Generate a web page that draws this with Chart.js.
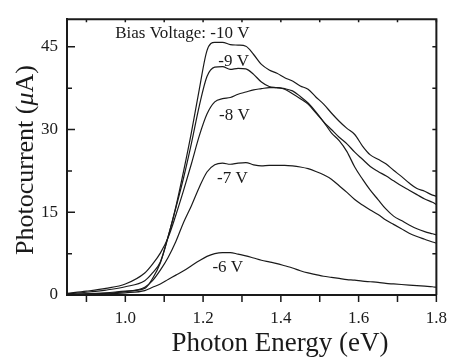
<!DOCTYPE html>
<html>
<head>
<meta charset="utf-8">
<script src="https://cdn.jsdelivr.net/npm/chart.js@4.4.1/dist/chart.umd.min.js"></script>
<style>
  body { margin: 0; background: #fff; }
</style>
</head>
<body>
<canvas id="chart" width="460" height="358"></canvas>
<script>
// Energía del fotón (eV), común a todas las curvas
const energy = [0.85, 0.90, 0.95, 1.00, 1.05,
  1.07, 1.09, 1.11, 1.13, 1.15, 1.17, 1.19, 1.21, 1.23, 1.25, 1.27, 1.29, 1.31, 1.33, 1.35,
  1.37, 1.39, 1.41, 1.43, 1.45, 1.47, 1.49, 1.51, 1.53, 1.55, 1.57, 1.59, 1.61, 1.63, 1.65,
  1.67, 1.69, 1.71, 1.73, 1.75, 1.77, 1.79, 1.80];

// Fotocorriente (uA) por tensión de polarización
const bias10 = [0.1, 0.2, 0.4, 0.7, 1.2,
  3.0, 5.8, 10.5, 16.0, 22.5, 29.5, 37.2, 44.3, 45.8, 45.8, 45.4, 45.3, 45.1, 43.6, 41.8,
  40.8, 40.2, 39.4, 38.8, 37.9, 37.3, 35.9, 34.6, 33.0, 31.5, 30.2, 29.1, 27.0, 25.4, 24.6,
  23.8, 22.6, 21.5, 20.3, 19.3, 18.8, 18.1, 17.9];
const bias9 = [0.2, 0.5, 0.9, 1.5, 2.6,
  4.0, 6.0, 10.6, 15.8, 21.3, 27.5, 34.2, 39.6, 41.3, 41.4, 40.9, 41.1, 41.0, 40.0, 38.6,
  37.8, 37.6, 37.3, 36.5, 35.6, 34.6, 33.0, 31.4, 30.0, 28.6, 27.4, 25.9, 24.6, 23.3, 22.4,
  21.6, 20.7, 19.8, 19.0, 18.2, 17.4, 16.8, 16.4];
const bias8 = [0.3, 0.7, 1.2, 2.0, 4.0,
  5.6, 7.6, 10.4, 14.5, 19.0, 23.8, 28.8, 32.8, 35.0, 35.6, 35.8, 36.4, 36.8, 37.2, 37.4,
  37.6, 37.6, 37.4, 37.0, 36.0, 34.8, 33.2, 31.4, 29.4, 28.0, 26.0, 23.2, 21.0, 19.0, 17.3,
  15.6, 14.3, 13.5, 12.7, 12.0, 11.5, 11.1, 10.9];
const bias7 = [0.1, 0.2, 0.3, 0.6, 1.4,
  2.6, 4.5, 6.8, 9.7, 13.2, 16.2, 19.5, 22.3, 23.6, 23.9, 23.7, 23.9, 24.0, 23.6, 23.4,
  23.5, 23.5, 23.5, 23.4, 23.2, 22.9, 22.4, 21.8, 21.0, 19.8, 18.6, 17.3, 16.3, 15.4, 14.6,
  13.6, 12.8, 12.0, 11.2, 10.6, 10.1, 9.6, 9.4];
const bias6 = [0.0, 0.1, 0.2, 0.4, 0.8,
  1.4, 2.0, 2.8, 3.6, 4.4, 5.3, 6.2, 7.0, 7.5, 7.7, 7.7, 7.4, 7.1, 6.7, 6.3,
  6.0, 5.7, 5.3, 4.9, 4.4, 4.0, 3.7, 3.4, 3.2, 3.0, 2.8, 2.7, 2.5, 2.4, 2.3,
  2.1, 2.0, 1.9, 1.8, 1.7, 1.6, 1.5, 1.4];

// Marcas de los ejes
const xTicks = [1.0, 1.2, 1.4, 1.6, 1.8];
const xMinor = [0.9, 1.1, 1.3, 1.5, 1.7];
const yTicks = [0, 15, 30, 45];
const yMinor = [7.5, 22.5, 37.5];

// Etiquetas de las curvas (en coordenadas de datos)
const curveLabels = ["Bias Voltage: -10 V", "-9 V", "-8 V", "-7 V", "-6 V"];
const labelX = [0.974, 1.239, 1.241, 1.236, 1.224];
const labelY = [46.6, 41.6, 31.8, 20.3, 4.2];

const serif = "'Liberation Serif', 'Times New Roman', serif";
const ink = "#1a1a1a";

const toPoints = vals => energy.map((e, i) => ({ x: e, y: vals[i] }));

// Dibuja marco, marcas, títulos y etiquetas
const decoracion = {
  id: "decoracion",
  afterDraw(chart) {
    const { ctx, chartArea: a, scales: { x, y } } = chart;
    ctx.save();
    ctx.strokeStyle = ink;
    ctx.lineWidth = 2;
    ctx.beginPath();
    ctx.moveTo(a.left, a.top);
    ctx.lineTo(a.right, a.top);
    ctx.lineTo(a.right, a.bottom);
    ctx.stroke();

    ctx.lineWidth = 1.5;
    ctx.beginPath();
    xTicks.concat(xMinor).forEach(v => {
      const px = x.getPixelForValue(v);
      ctx.moveTo(px, a.bottom);
      ctx.lineTo(px, a.bottom + 7);
      ctx.moveTo(px, a.top);
      ctx.lineTo(px, a.top + 3);
    });
    yTicks.forEach(v => {
      const py = y.getPixelForValue(v);
      ctx.moveTo(a.left, py);
      ctx.lineTo(a.left + 8, py);
    });
    yMinor.forEach(v => {
      const py = y.getPixelForValue(v);
      ctx.moveTo(a.left, py);
      ctx.lineTo(a.left + 5, py);
    });
    yTicks.concat(yMinor).forEach(v => {
      if (v === 0) return;
      const py = y.getPixelForValue(v);
      ctx.moveTo(a.right, py);
      ctx.lineTo(a.right - 4, py);
    });
    ctx.stroke();

    // etiquetas de las curvas
    ctx.fillStyle = ink;
    ctx.font = "17px " + serif;
    ctx.textBaseline = "alphabetic";
    ctx.textAlign = "left";
    curveLabels.forEach((t, i) => {
      ctx.fillText(t, x.getPixelForValue(labelX[i]), y.getPixelForValue(labelY[i]));
    });

    // título eje X
    ctx.font = "27px " + serif;
    ctx.textAlign = "center";
    ctx.fillText("Photon Energy (eV)", 280, 351);

    // título eje Y con mu en cursiva
    const parts = [["Photocurrent (", ""], ["\u03bc", "italic "], ["A)", ""]];
    ctx.translate(33, 160);
    ctx.rotate(-Math.PI / 2);
    ctx.textAlign = "left";
    let total = 0;
    const widths = parts.map(([t, st]) => {
      ctx.font = st + "26px " + serif;
      const w = ctx.measureText(t).width;
      total += w;
      return w;
    });
    let cx = -total / 2;
    parts.forEach(([t, st], i) => {
      ctx.font = st + "26px " + serif;
      ctx.fillText(t, cx, 0);
      cx += widths[i];
    });
    ctx.restore();
  }
};

const series = [bias10, bias9, bias8, bias7, bias6];

new Chart(document.getElementById("chart"), {
  type: "line",
  data: {
    datasets: series.map(vals => ({
      data: toPoints(vals),
      borderColor: ink,
      borderWidth: 1.2,
      pointRadius: 0,
      fill: false,
      cubicInterpolationMode: "monotone",
    })),
  },
  options: {
    responsive: false,
    animation: false,
    devicePixelRatio: 1,
    layout: { padding: { top: 12, right: 13, left: 0, bottom: 0 } },
    plugins: {
      legend: { display: false },
      tooltip: { enabled: false },
    },
    scales: {
      x: {
        type: "linear",
        min: 0.85,
        max: 1.8,
        afterBuildTicks: s => { s.ticks = xTicks.map(v => ({ value: v })); },
        afterFit: s => { s.height = 63; },
        grid: { display: false, drawTicks: false },
        border: { display: true, width: 2, color: ink },
        ticks: {
          padding: 13,
          color: ink,
          font: { family: serif, size: 17 },
          maxRotation: 0,
          autoSkip: false,
          callback: v => v.toFixed(1),
        },
      },
      y: {
        type: "linear",
        min: 0,
        max: 50,
        afterBuildTicks: s => { s.ticks = yTicks.map(v => ({ value: v })); },
        afterFit: s => { s.width = 67; },
        grid: { display: false, drawTicks: false },
        border: { display: true, width: 2, color: ink },
        ticks: {
          padding: 9,
          color: ink,
          font: { family: serif, size: 17 },
          autoSkip: false,
          callback: v => String(v),
        },
      },
    },
  },
  plugins: [decoracion],
});
</script>
</body>
</html>
